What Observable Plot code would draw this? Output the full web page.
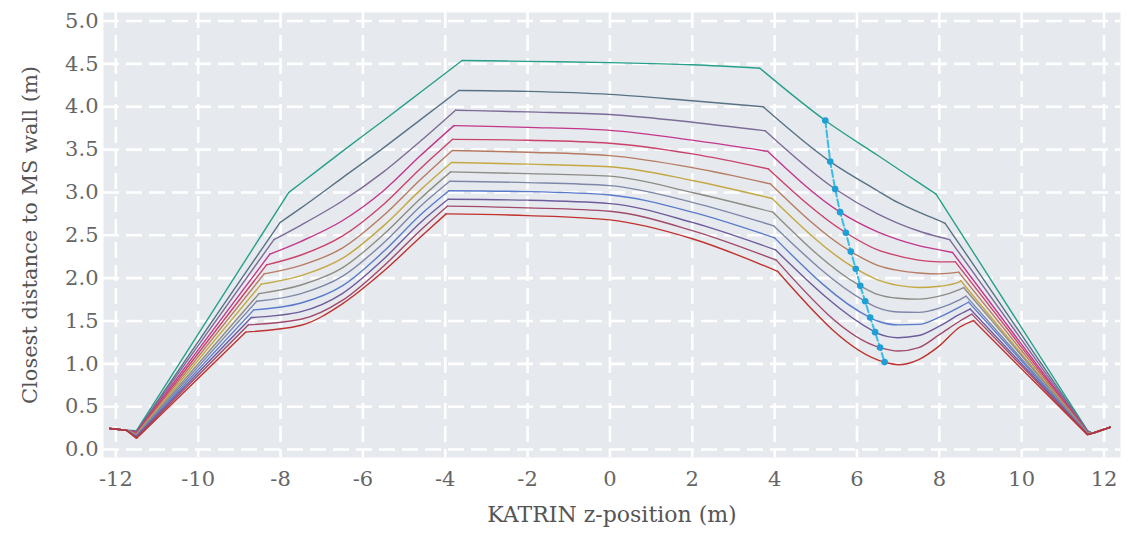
<!DOCTYPE html>
<html>
<head>
<meta charset="utf-8">
<script src="https://cdn.jsdelivr.net/npm/d3@7"></script>
<script src="https://cdn.jsdelivr.net/npm/@observablehq/plot@0.6"></script>
<style>
  html, body { margin: 0; padding: 0; background: #fff; }
  #chart svg { display: block; }
</style>
</head>
<body>
<div id="chart"></div>
<script>
// ---- data (z in m, d in m) ----
const curveColors = ["#27a08a","#587386","#7d6b98","#c2378c","#c9436a","#b77b63","#c4a843","#8d8c85","#7e87a8","#5a7bcc","#6e5b9c","#a14a6b","#c0322f"];

const leftTailZ = [-12.15, -11.75];
const leftTailD = [0.245, 0.225];
const dipLeftZ = -11.5;
const dipLeftD = [0.22,0.21,0.205,0.20,0.19,0.18,0.175,0.17,0.16,0.155,0.15,0.14,0.13];

const kink1Z = [-7.80,-8.01,-8.16,-8.26,-8.34,-8.40,-8.47,-8.52,-8.58,-8.65,-8.71,-8.78,-8.85];
const kink1D = [3.00,2.65,2.45,2.28,2.155,2.05,1.93,1.82,1.73,1.63,1.54,1.455,1.37];

const riseZ = [-7.5, -6.5, -5.5, -4.6];
const riseD = [
  [3.11,3.48,3.84,4.17],
  [2.82,3.17,3.52,3.85],
  [2.62,2.90,3.24,3.60],
  [2.43,2.67,3.02,3.43],
  [2.27,2.49,2.86,3.28],
  [2.15,2.35,2.73,3.15],
  [2.03,2.23,2.61,3.03],
  [1.92,2.12,2.51,2.93],
  [1.82,2.02,2.41,2.84],
  [1.71,1.91,2.31,2.74],
  [1.61,1.82,2.22,2.65],
  [1.52,1.74,2.14,2.56],
  [1.45,1.70,2.08,2.48]
];

const kink2Z = [-3.59,-3.67,-3.75,-3.79,-3.82,-3.83,-3.85,-3.87,-3.89,-3.91,-3.93,-3.95,-3.98];
const kink2D = [4.54,4.19,3.96,3.78,3.62,3.49,3.35,3.24,3.13,3.02,2.92,2.84,2.75];

const topZ = [-2, 0, 2];
const topD = [
  [4.53,4.515,4.49],
  [4.18,4.145,4.07],
  [3.94,3.91,3.82],
  [3.76,3.725,3.61],
  [3.61,3.575,3.45],
  [3.47,3.43,3.29],
  [3.33,3.30,3.14],
  [3.22,3.19,3.00],
  [3.115,3.08,2.885],
  [3.01,2.97,2.77],
  [2.91,2.87,2.65],
  [2.82,2.78,2.555],
  [2.73,2.68,2.46]
];

const kink3Z = [3.64,3.72,3.77,3.83,3.85,3.90,3.94,3.96,3.98,4.00,4.02,4.04,4.07];
const kink3D = [4.45,4.00,3.72,3.48,3.275,3.10,2.93,2.77,2.61,2.47,2.33,2.21,2.08];

// marked points (cyan dashed line)
const dotZ = [5.23,5.35,5.47,5.59,5.73,5.85,5.97,6.08,6.20,6.32,6.44,6.56,6.67];
const dotD = [3.84,3.36,3.04,2.77,2.53,2.31,2.11,1.91,1.73,1.54,1.37,1.19,1.02];

const troughZ = [6.5, 7.0, 7.5, 8.0, 8.5];
const troughD = [
  [3.434,3.274,3.114,null,null],
  [3.02,2.88,2.77,2.67,null],
  [2.75,2.64,2.55,2.48,null],
  [2.54,2.45,2.38,2.33,null],
  [2.33,2.26,2.21,2.19,null],
  [2.15,2.09,2.06,2.05,null],
  [1.98,1.915,1.89,1.905,1.96],
  [1.81,1.765,1.755,1.79,1.87],
  [1.655,1.605,1.60,1.65,1.75],
  [1.50,1.455,1.46,1.545,1.665],
  [1.355,1.305,1.33,1.44,1.58],
  [null,1.15,1.19,1.34,1.50],
  [null,0.99,1.05,1.21,1.43]
];

const kink4Z = [7.92,8.14,8.25,8.32,8.39,8.47,8.52,8.59,8.65,8.71,8.75,8.79,8.83];
const kink4D = [2.98,2.64,2.45,2.30,2.19,2.07,1.97,1.89,1.79,1.72,1.64,1.58,1.505];

const dipRightZ = 11.6;
const dipRightD = [0.22,0.215,0.21,0.205,0.20,0.195,0.19,0.19,0.185,0.18,0.18,0.175,0.17];
const rightTailZ = [11.72, 12.15];
const rightTailD = [0.19, 0.26];

const xTicks = [-12,-10,-8,-6,-4,-2,0,2,4,6,8,10,12];
const yTicks = [0,0.5,1,1.5,2,2.5,3,3.5,4,4.5,5];

// ---- build tables ----
const linearRows = [];
const smoothRows = [];
curveColors.forEach((c, i) => {
  const push = (arr, seg, z, d) => { if (d != null) arr.push({curve: i, key: i + "-" + seg, z, d}); };
  leftTailZ.forEach((z, k) => push(linearRows, "a", z, leftTailD[k]));
  push(linearRows, "a", dipLeftZ, dipLeftD[i]);
  push(linearRows, "a", kink1Z[i], kink1D[i]);
  push(smoothRows, "b", kink1Z[i], kink1D[i]);
  riseZ.forEach((z, k) => push(smoothRows, "b", z, riseD[i][k]));
  push(smoothRows, "b", kink2Z[i], kink2D[i]);
  push(smoothRows, "c", kink2Z[i], kink2D[i]);
  topZ.forEach((z, k) => push(smoothRows, "c", z, topD[i][k]));
  push(smoothRows, "c", kink3Z[i], kink3D[i]);
  push(smoothRows, "d", kink3Z[i], kink3D[i]);
  push(smoothRows, "d", dotZ[i], dotD[i]);
  troughZ.forEach((z, k) => { if (z > dotZ[i] && z < kink4Z[i]) push(smoothRows, "d", z, troughD[i][k]); });
  push(smoothRows, "d", kink4Z[i], kink4D[i]);
  push(linearRows, "e", kink4Z[i], kink4D[i]);
  push(linearRows, "e", dipRightZ, dipRightD[i]);
  rightTailZ.forEach((z, k) => push(linearRows, "e", z, rightTailD[k]));
});
const dotRows = dotZ.map((z, i) => ({z, d: dotD[i]}));

const textColor = "#666";
const chart = Plot.plot({
  width: 1130,
  height: 535,
  marginLeft: 103,
  marginRight: 10,
  marginTop: 12,
  marginBottom: 78,
  style: {fontFamily: "DejaVu Serif", background: "#fff"},
  x: {domain: [-12.3, 12.4]},
  y: {domain: [-0.093, 5.1]},
  color: {type: "ordinal", domain: d3.range(curveColors.length), range: curveColors},
  marks: [
    Plot.frame({fill: "#e6e9ed", stroke: null}),
    Plot.gridX(xTicks, {stroke: "#fff", strokeOpacity: 1, strokeWidth: 2.6, strokeDasharray: "16,7"}),
    Plot.gridY(yTicks, {stroke: "#fff", strokeOpacity: 1, strokeWidth: 2.6, strokeDasharray: "16,7"}),
    Plot.axisX(xTicks, {tickSize: 0, tickPadding: 14, fontSize: 21, fill: textColor, label: null, tickFormat: d => String(d)}),
    Plot.axisY(yTicks, {tickSize: 0, tickPadding: 5, fontSize: 21, fill: textColor, label: null, tickFormat: d3.format(".1f")}),
    Plot.line(linearRows, {x: "z", y: "d", z: "key", stroke: "curve", strokeWidth: 1.4, curve: "linear"}),
    Plot.line(smoothRows, {x: "z", y: "d", z: "key", stroke: "curve", strokeWidth: 1.4, curve: "monotone-x"}),
    Plot.line(dotRows, {x: "z", y: "d", stroke: "#38bde6", strokeWidth: 2, strokeDasharray: "7,3"}),
    Plot.dot(dotRows, {x: "z", y: "d", r: 3.3, fill: "#1e9fd6", stroke: null}),
    Plot.text(["KATRIN z-position (m)"], {frameAnchor: "bottom", textAnchor: "middle", dy: 64, fontSize: 22, fill: "#555"}),
    Plot.text(["Closest distance to MS wall (m)"], {frameAnchor: "left", textAnchor: "middle", rotate: -90, dx: -73, dy: 0, fontSize: 21, fill: "#555"})
  ]
});
document.getElementById("chart").appendChild(chart);
</script>
</body>
</html>
